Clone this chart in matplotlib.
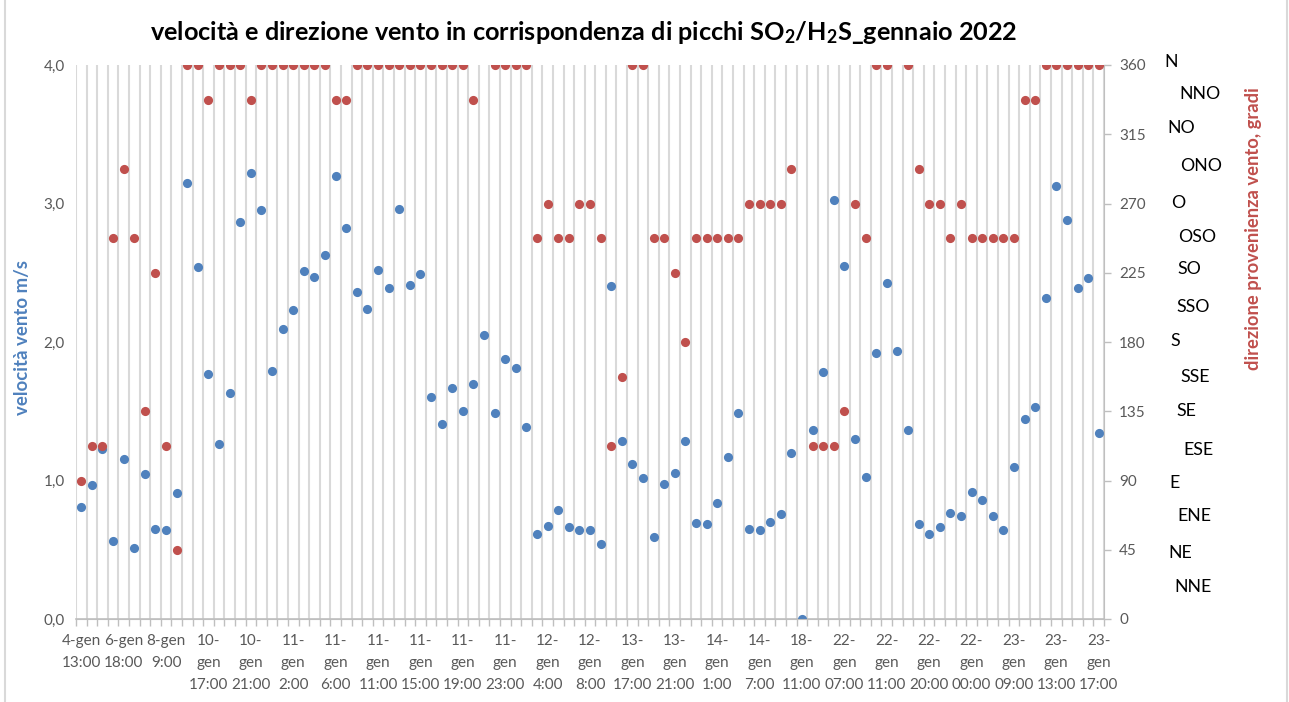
import numpy as np
import matplotlib
matplotlib.use("Agg")
import matplotlib.pyplot as plt
from matplotlib.ticker import FuncFormatter, MultipleLocator

plt.rcParams['font.family'] = ['Lato', 'DejaVu Sans']
plt.rcParams['mathtext.fontset'] = 'custom'
plt.rcParams['mathtext.rm'] = 'Lato:bold'
plt.rcParams['mathtext.it'] = 'Lato:bold'
plt.rcParams['mathtext.bf'] = 'Lato:bold'

# ---------------- data ----------------
velocita = [0.81, 0.965, 1.225, 0.565, 1.157, 0.515, 1.047, 0.648, 0.64, 0.912,
            3.146, 2.54, 1.771, 1.261, 1.632, 2.87, 3.22, 2.95, 1.788, 2.094,
            2.23, 2.51, 2.47, 2.63, 3.20, 2.82, 2.36, 2.24, 2.52, 2.39,
            2.96, 2.41, 2.49, 1.605, 1.405, 1.668, 1.504, 1.694, 2.048, 1.485,
            1.877, 1.815, 1.384, 0.611, 0.671, 0.789, 0.662, 0.64, 0.64, 0.541,
            2.404, 1.287, 1.117, 1.018, 0.594, 0.975, 1.052, 1.283, 0.695, 0.686,
            0.84, 1.167, 1.485, 0.65, 0.64, 0.698, 0.756, 1.201, 0.0, 1.365,
            1.783, 3.023, 2.546, 1.30, 1.025, 1.921, 2.426, 1.935, 1.367, 0.684,
            0.611, 0.662, 0.768, 0.744, 0.919, 0.857, 0.744, 0.640, 1.095, 1.444,
            1.528, 2.315, 3.126, 2.878, 2.388, 2.462, 1.343]

nan = float('nan')
direzione = [90, 112.5, 112.5, 247.5, 292.5, 247.5, 135, 225, 112.5, 45,
             360, 360, 337.5, 360, 360, 360, 337.5, 360, 360, 360,
             360, 360, 360, 360, 337.5, 337.5, 360, 360, 360, 360,
             360, 360, 360, 360, 360, 360, 360, 337.5, nan, 360,
             360, 360, 360, 247.5, 270, 247.5, 247.5, 270, 270, 247.5,
             112.5, 157.5, 360, 360, 247.5, 247.5, 225, 180, 247.5, 247.5,
             247.5, 247.5, 247.5, 270, 270, 270, 270, 292.5, nan, 112.5,
             112.5, 112.5, 135, 270, 247.5, 360, 360, nan, 360, 292.5,
             270, 270, 247.5, 270, 247.5, 247.5, 247.5, 247.5, 247.5, 337.5,
             337.5, 360, 360, 360, 360, 360, 360]

etichette = ["4-gen\n13:00", "6-gen\n18:00", "8-gen\n9:00", "10-\ngen\n17:00",
             "10-\ngen\n21:00", "11-\ngen\n2:00", "11-\ngen\n6:00", "11-\ngen\n11:00",
             "11-\ngen\n15:00", "11-\ngen\n19:00", "11-\ngen\n23:00", "12-\ngen\n4:00",
             "12-\ngen\n8:00", "13-\ngen\n17:00", "13-\ngen\n21:00", "14-\ngen\n1:00",
             "14-\ngen\n7:00", "18-\ngen\n11:00", "22-\ngen\n07:00", "22-\ngen\n11:00",
             "22-\ngen\n20:00", "22-\ngen\n00:00", "23-\ngen\n09:00", "23-\ngen\n13:00",
             "23-\ngen\n17:00"]
passo_etichette = 4

punti_cardinali = ["N", "NNO", "NO", "ONO", "O", "OSO", "SO", "SSO", "S",
                   "SSE", "SE", "ESE", "E", "ENE", "NE", "NNE"]

# ---------------- figure ----------------
W, H = 1289, 702
fig = plt.figure(figsize=(W / 100, H / 100), dpi=100)
L, R, T, B = 76, 1104, 65, 619
ax = fig.add_axes([L / W, 1 - B / H, (R - L) / W, (B - T) / H])
ax2 = ax.twinx()

n = len(velocita)
x = np.arange(n)

BLUE = '#4F81BD'
RED = '#C0504D'
GRID = '#D9D9D9'
TICKC = '#595959'
SPINE = '#BFBFBF'

ax.plot(x, velocita, 'o', color=BLUE, markersize=6.6, markeredgewidth=0, zorder=3)
ax2.plot(x, direzione, 'o', color=RED, markersize=6.6, markeredgewidth=0, zorder=3)

ax.set_xlim(-0.5, n - 0.5)
ax.set_ylim(0, 4)
ax2.set_ylim(0, 360)

# y ticks
ax.yaxis.set_major_locator(MultipleLocator(1))
ax.yaxis.set_major_formatter(FuncFormatter(lambda v, p: f"{v:.1f}".replace('.', ',')))
ax2.yaxis.set_major_locator(MultipleLocator(45))
ax.tick_params(axis='y', length=0, labelsize=11, labelcolor=TICKC, pad=8)
ax2.tick_params(axis='y', length=5, width=1, color=SPINE, labelsize=11, labelcolor=TICKC, pad=6)

# x ticks: labels at every 4th category, boundaries as minor ticks / gridlines
ax.set_xticks(x[::passo_etichette])
ax.set_xticklabels(etichette, linespacing=1.7, va='top')
ax.set_xticks(np.arange(-0.5, n, 1.0), minor=True)
ax.tick_params(axis='x', which='major', length=0, labelsize=11, labelcolor=TICKC, pad=11)
ax.tick_params(axis='x', which='minor', length=5, width=1, color=SPINE)
ax.grid(axis='x', which='minor', color=GRID, linewidth=1.5, zorder=0)
ax.grid(axis='x', which='major', visible=False)
ax.set_axisbelow(True)

for a in (ax, ax2):
    a.spines['top'].set_visible(False)
    a.spines['left'].set_visible(False)
    a.spines['bottom'].set_color(SPINE)
    a.spines['right'].set_visible(False)
ax2.spines['right'].set_visible(True)
ax2.spines['right'].set_color(SPINE)
ax.spines['bottom'].set_linewidth(1.2)

# axis titles
fig.text(23 / W, 1 - 338 / H, "velocità vento m/s", rotation=90, color=BLUE,
         fontsize=13.4, fontweight='bold', ha='center', va='center')
fig.text(1253 / W, 1 - 229 / H, "direzione provenienza vento, gradi", rotation=90,
         color=RED, fontsize=13.2, fontweight='bold', ha='center', va='center')

# title
fig.text(584 / W, 1 - 32 / H,
         r"velocità e direzione vento in corrispondenza di picchi SO$_2$/H$_2$S_gennaio 2022",
         fontsize=18.2, fontweight='bold', ha='center', va='center', color='black')

# compass labels
pos_x = [1164, 1179, 1167, 1180, 1171, 1178, 1177, 1176, 1170, 1180, 1176, 1183, 1169, 1177, 1168, 1174]
pos_y = [62, 94, 128, 166, 203, 237, 269, 307, 341, 377, 411, 450, 483, 516, 553, 587]
for lab, px, py in zip(punti_cardinali, pos_x, pos_y):
    fig.text(px / W, 1 - py / H, lab, fontsize=12.8, ha='left', va='center', color='black')

# chart border
for bx in (5, 1287):
    fig.add_artist(plt.Line2D([bx / W, bx / W], [0, 1], color=GRID, linewidth=1.5,
                              transform=fig.transFigure))

fig.savefig("out.png", dpi=100)
